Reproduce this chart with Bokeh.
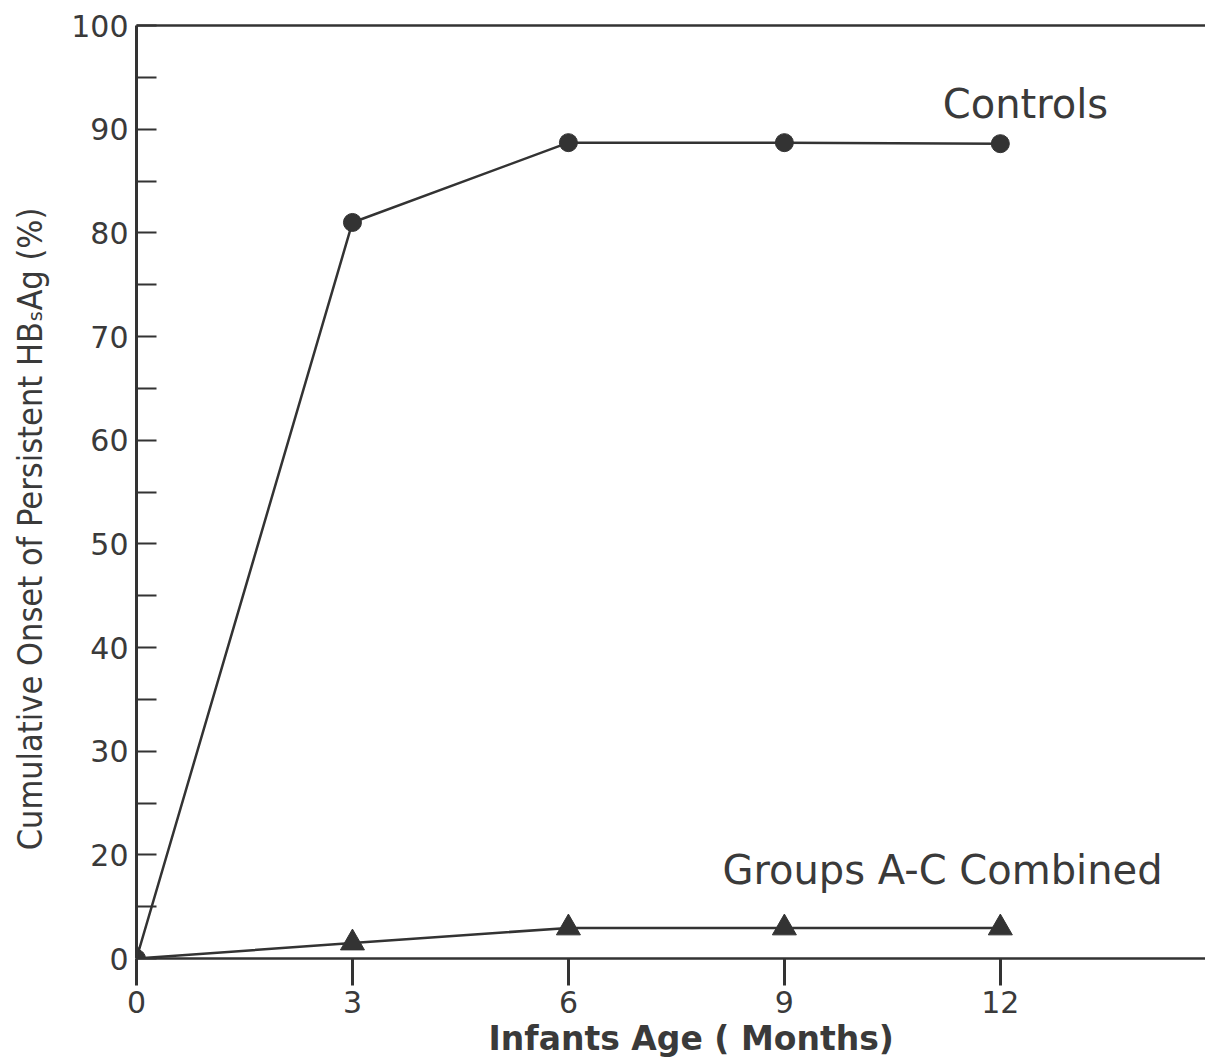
import math
from bokeh.plotting import figure
from bokeh.layouts import row
from bokeh.models import (FixedTicker, LinearAxis, Range1d, Title, Label,
                          ColumnDataSource)
from bokeh.core.properties import value
from bokeh.embed import file_html
from bokeh.resources import INLINE

# ---- data -------------------------------------------------------------
age_months = [0, 3, 6, 9, 12]
controls_pct = [0, 81.0, 88.7, 88.7, 88.6]
groups_ac_pct = [0, 3.0, 5.9, 5.9, 5.9]

x_ticks = [0, 3, 6, 9, 12]
y_tick_values = [0, 20, 30, 40, 50, 60, 70, 80, 90, 100]

INK = "#333333"
TEXT = "#3a3a3a"
FONT = "DejaVu Sans"
HEIGHT = 1061
LABEL_W = 60


# The y axis is broken: 0-20 % is drawn at half scale, above 20 % linear.
def to_axis(v):
    return v / 2.0 if v <= 20 else v - 10.0


y_ticks_pos = [to_axis(v) for v in y_tick_values]
y_minor_pos = [p + 5 for p in y_ticks_pos[:-1]]

ctrl_src = ColumnDataSource(dict(x=age_months, y=[to_axis(v) for v in controls_pct]))
grp_src = ColumnDataSource(dict(x=age_months, y=[to_axis(v) for v in groups_ac_pct]))

# narrow strip holding the rotated y-axis title
strip = figure(width=LABEL_W, height=HEIGHT, output_backend="svg", toolbar_location=None,
               x_range=Range1d(0, LABEL_W), y_range=Range1d(0, HEIGHT),
               min_border=0, x_axis_type=None, y_axis_type=None)
strip.outline_line_color = None
strip.grid.visible = False
strip.text(x=[29], y=[123], text=["Cumulative Onset of Persistent HB\u209bAg (%)"],
           angle=math.pi / 2, text_align="left", text_baseline="middle",
           text_font=value("DejaVu Sans Condensed"), text_font_size="34px",
           text_color=TEXT)

p = figure(width=1205 - LABEL_W, height=HEIGHT, output_backend="svg",
           toolbar_location=None,
           x_range=Range1d(0, 14.85), y_range=Range1d(0, to_axis(100)),
           min_border_left=136 - LABEL_W, min_border_right=0, min_border_top=25,
           min_border_bottom=103, x_axis_type=None, y_axis_type=None)
p.outline_line_color = None
p.grid.visible = False
p.background_fill_color = "white"
p.border_fill_color = "white"

# left axis with inward ticks
yaxis = LinearAxis(ticker=FixedTicker(ticks=y_ticks_pos, minor_ticks=y_minor_pos))
yaxis.major_label_overrides = {pos: str(v) for pos, v in zip(y_ticks_pos, y_tick_values)}
yaxis.major_tick_in = 20
yaxis.major_tick_out = 0
yaxis.minor_tick_in = 20
yaxis.minor_tick_out = 0
yaxis.axis_line_width = 3
yaxis.major_tick_line_width = 2
yaxis.minor_tick_line_width = 2
for attr in ("axis_line_color", "major_tick_line_color", "minor_tick_line_color"):
    setattr(yaxis, attr, INK)
yaxis.major_label_text_font = FONT
yaxis.major_label_text_font_size = "30px"
yaxis.major_label_text_color = TEXT
yaxis.major_label_standoff = 8
p.add_layout(yaxis, "left")

# bottom axis with ticks hanging below
xaxis = LinearAxis(ticker=FixedTicker(ticks=x_ticks))
xaxis.major_tick_in = 0
xaxis.major_tick_out = 27
xaxis.minor_tick_line_color = None
xaxis.axis_line_width = 2.5
xaxis.major_tick_line_width = 3
xaxis.axis_line_color = INK
xaxis.major_tick_line_color = INK
xaxis.major_label_text_font = FONT
xaxis.major_label_text_font_size = "30px"
xaxis.major_label_text_color = TEXT
xaxis.major_label_standoff = 5
p.add_layout(xaxis, "below")

# plain top border
top = LinearAxis(ticker=FixedTicker(ticks=[]))
top.major_label_text_font_size = "0px"
top.major_tick_out = 0
top.major_tick_in = 0
top.minor_tick_line_color = None
top.axis_line_width = 2.5
top.axis_line_color = INK
p.add_layout(top, "above")

# x-axis title
p.add_layout(Title(text="Infants Age ( Months)", align="left", offset=352,
                   text_font=FONT, text_font_size="33px", text_font_style="bold",
                   text_color=TEXT, standoff=3), "below")

# series
p.line("x", "y", source=ctrl_src, line_color=INK, line_width=2.5)
p.scatter("x", "y", source=ctrl_src, marker="circle", size=18,
          fill_color=INK, line_color=INK)
p.line("x", "y", source=grp_src, line_color=INK, line_width=2.5)
p.scatter("x", "y", source=grp_src, marker="triangle", size=24,
          fill_color=INK, line_color=INK)

# series names
p.add_layout(Label(x=11.2, y=to_axis(92.4), text="Controls", text_font=FONT,
                   text_font_size="40px", text_color=TEXT, text_baseline="middle"))
p.add_layout(Label(x=8.14, y=to_axis(17.0), text="Groups A-C Combined", text_font=FONT,
                   text_font_size="40px", text_color=TEXT, text_baseline="middle"))

layout = row(strip, p, spacing=0)
open("out.html", "w").write(file_html(layout, INLINE))
